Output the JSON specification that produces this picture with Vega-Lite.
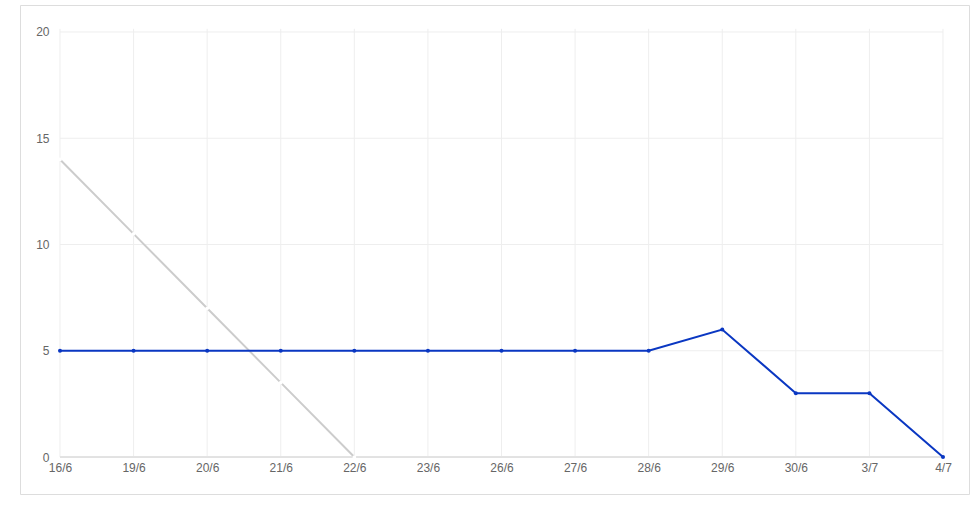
{
  "$schema": "https://vega.github.io/schema/vega-lite/v6.json",
  "width": 949,
  "height": 489,
  "autosize": "none",
  "padding": {"left": 20, "top": 5, "right": 10, "bottom": 13},
  "background": "white",
  "config": {
    "view": {"stroke": "#dddddd", "strokeWidth": 1},
    "font": "Liberation Sans"
  },
  "datasets": {
    "burn": [
      {"date": "16/6", "ideal": 14, "actual": 5},
      {"date": "19/6", "ideal": 10.5, "actual": 5},
      {"date": "20/6", "ideal": 7, "actual": 5},
      {"date": "21/6", "ideal": 3.5, "actual": 5},
      {"date": "22/6", "ideal": 0, "actual": 5},
      {"date": "23/6", "ideal": null, "actual": 5},
      {"date": "26/6", "ideal": null, "actual": 5},
      {"date": "27/6", "ideal": null, "actual": 5},
      {"date": "28/6", "ideal": null, "actual": 5},
      {"date": "29/6", "ideal": null, "actual": 6},
      {"date": "30/6", "ideal": null, "actual": 3},
      {"date": "3/7", "ideal": null, "actual": 3},
      {"date": "4/7", "ideal": null, "actual": 0}
    ],
    "ygrid": [{"v": 0}, {"v": 5}, {"v": 10}, {"v": 15}, {"v": 20}]
  },
  "resolve": {"scale": {"x": "shared", "y": "shared"}},
  "layer": [
    {
      "data": {"name": "ygrid"},
      "mark": {"type": "rule", "color": "#eeeeee", "strokeWidth": 1},
      "encoding": {
        "y": {"field": "v", "type": "quantitative"},
        "x": {"datum": "16/6", "type": "ordinal"},
        "x2": {"datum": "4/7"}
      }
    },
    {
      "data": {"name": "burn"},
      "mark": {"type": "rule", "color": "#eeeeee", "strokeWidth": 1},
      "encoding": {
        "x": {"field": "date", "type": "ordinal", "sort": null},
        "y": {"datum": 0, "type": "quantitative"},
        "y2": {"datum": 20.15}
      }
    },
    {
      "data": {"name": "burn"},
      "mark": {"type": "rule", "color": "#e2e2e2", "strokeWidth": 1},
      "encoding": {
        "x": {"datum": "16/6", "type": "ordinal"},
        "x2": {"datum": "4/7"},
        "y": {"datum": 0, "type": "quantitative"}
      }
    },
    {
      "data": {"name": "burn"},
      "mark": {"type": "line", "color": "#cccccc", "strokeWidth": 2},
      "encoding": {
        "x": {"field": "date", "type": "ordinal", "sort": null},
        "y": {"field": "ideal", "type": "quantitative"}
      }
    },
    {
      "data": {"name": "burn"},
      "transform": [{"filter": "datum.ideal != null"}],
      "mark": {"type": "point", "filled": true, "color": "white", "size": 14, "opacity": 1},
      "encoding": {
        "x": {"field": "date", "type": "ordinal", "sort": null},
        "y": {"field": "ideal", "type": "quantitative"}
      }
    },
    {
      "data": {"name": "burn"},
      "mark": {"type": "line", "color": "#0a37c2", "strokeWidth": 2},
      "encoding": {
        "x": {
          "field": "date",
          "type": "ordinal",
          "sort": null,
          "scale": {
            "type": "point",
            "domain": ["16/6", "19/6", "20/6", "21/6", "22/6", "23/6", "26/6", "27/6", "28/6", "29/6", "30/6", "3/7", "4/7"],
            "padding": 0.4485,
            "align": 0.606
          },
          "axis": {
            "title": null,
            "orient": "bottom",
            "offset": -37,
            "domain": false,
            "ticks": false,
            "grid": false,
            "labelAngle": 0,
            "labelAlign": "center",
            "labelBaseline": "top",
            "labelPadding": 5,
            "labelFontSize": 12,
            "labelColor": "#666666",
            "labelFont": "Liberation Sans"
          }
        },
        "y": {
          "field": "actual",
          "type": "quantitative",
          "scale": {"domain": [-1.741, 21.27], "nice": false, "zero": false},
          "axis": {
            "title": null,
            "offset": -40,
            "values": [0, 5, 10, 15, 20],
            "domain": false,
            "ticks": false,
            "grid": false,
            "labelPadding": 11,
            "labelFontSize": 12,
            "labelColor": "#666666",
            "labelFont": "Liberation Sans"
          }
        }
      }
    },
    {
      "data": {"name": "burn"},
      "mark": {"type": "point", "filled": true, "color": "#0a37c2", "size": 16, "opacity": 1},
      "encoding": {
        "x": {"field": "date", "type": "ordinal", "sort": null},
        "y": {"field": "actual", "type": "quantitative"}
      }
    }
  ]
}
